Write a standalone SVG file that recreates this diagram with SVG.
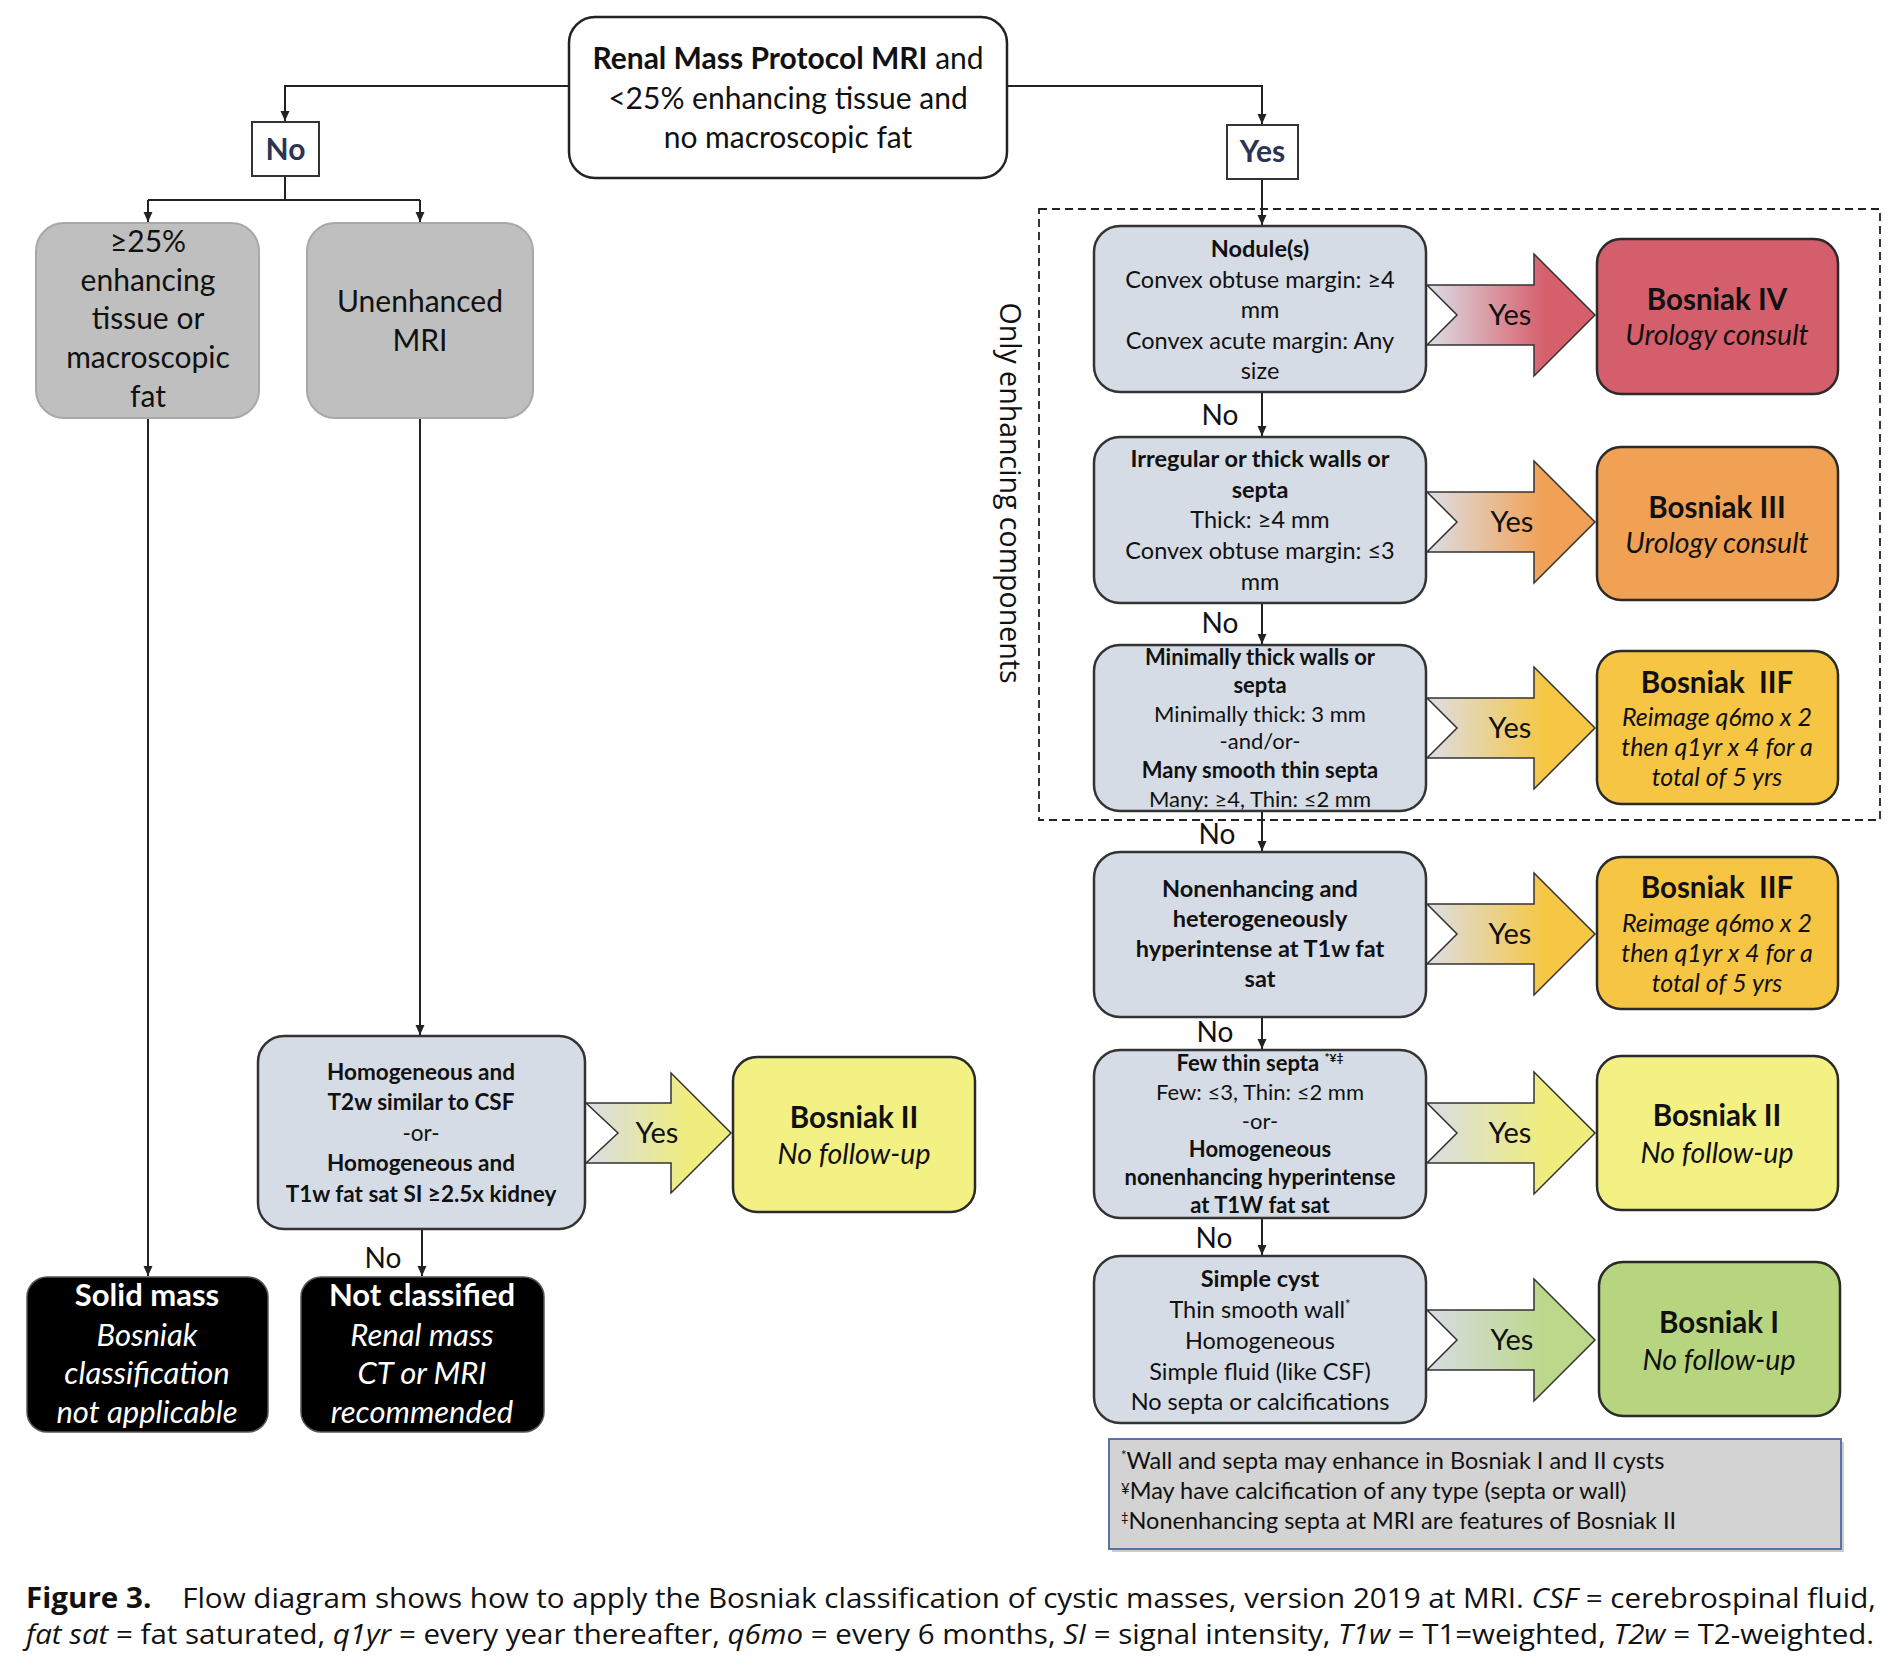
<svg xmlns="http://www.w3.org/2000/svg" width="1888" height="1670" viewBox="0 0 1888 1670">
<style>
text{font-family:Lato,"Liberation Sans",sans-serif;fill:#111;}
.c{text-anchor:middle;}
.b{font-weight:bold;}
.i{font-style:italic;}
.conn{fill:none;stroke:#222;stroke-width:2;}
.gbox{fill:#d6dce5;stroke:#333;stroke-width:2.5;}
.lgray{fill:#bfbfbf;stroke:#a8a8a8;stroke-width:2;}
.blk{fill:#000;stroke:#555;stroke-width:1.5;}
.res{stroke:#2a2a2a;stroke-width:2.5;}
.arr{stroke:#333;stroke-width:1.5;}
.lbl{fill:#fff;stroke:#333;stroke-width:2;}
.lbltx{font-size:30px;font-weight:bold;fill:#2b3553;text-anchor:middle;}
.no{font-size:28px;text-anchor:middle;}
.yes{font-size:29px;text-anchor:middle;}
.gt{font-size:23.5px;text-anchor:middle;}
.gts{font-size:22px;text-anchor:middle;}
.ht{font-size:22.5px;text-anchor:middle;}
.tt{font-size:29.5px;font-weight:bold;text-anchor:middle;}
.st{font-size:28.5px;font-style:italic;text-anchor:middle;}
.st2{font-size:25px;font-style:italic;text-anchor:middle;}
.wt{fill:#fff;font-size:31px;text-anchor:middle;}
.lt{font-size:30px;text-anchor:middle;}
.ft{font-size:23.5px;}
</style>
<defs>
<marker id="ah" markerWidth="12" markerHeight="12" refX="10" refY="6" orient="auto" markerUnits="userSpaceOnUse">
<path d="M0,1.5 L10,6 L0,10.5 Z" fill="#222"/>
</marker>
<linearGradient id="gRed" x1="0" y1="0" x2="1" y2="0"><stop offset="0" stop-color="#dcdee6"/><stop offset="0.7" stop-color="#d65f6c"/><stop offset="1" stop-color="#d65f6c"/></linearGradient>
<linearGradient id="gOra" x1="0" y1="0" x2="1" y2="0"><stop offset="0" stop-color="#dcdee6"/><stop offset="0.7" stop-color="#f1a155"/><stop offset="1" stop-color="#f1a155"/></linearGradient>
<linearGradient id="gGold" x1="0" y1="0" x2="1" y2="0"><stop offset="0" stop-color="#dcdee6"/><stop offset="0.7" stop-color="#f6c744"/><stop offset="1" stop-color="#f6c744"/></linearGradient>
<linearGradient id="gYel" x1="0" y1="0" x2="1" y2="0"><stop offset="0" stop-color="#d8dce4"/><stop offset="0.7" stop-color="#efed7e"/><stop offset="1" stop-color="#efed7e"/></linearGradient>
<linearGradient id="gGrn" x1="0" y1="0" x2="1" y2="0"><stop offset="0" stop-color="#d8dce4"/><stop offset="0.7" stop-color="#bcd88a"/><stop offset="1" stop-color="#bcd88a"/></linearGradient>
</defs>

<g id="connectors">
<path class="conn" d="M569,86 H285 V121" marker-end="url(#ah)"/>
<path class="conn" d="M1007,86 H1262 V124" marker-end="url(#ah)"/>
<path class="conn" d="M285,176 V200 M148,200 H420"/>
<path class="conn" d="M148,200 V222" marker-end="url(#ah)"/>
<path class="conn" d="M420,200 V222" marker-end="url(#ah)"/>
<path class="conn" d="M148,418 V1276" marker-end="url(#ah)"/>
<path class="conn" d="M420,418 V1035" marker-end="url(#ah)"/>
<path class="conn" d="M422,1229 V1276" marker-end="url(#ah)"/>
<path class="conn" d="M1262,179 V225" marker-end="url(#ah)"/>
<path class="conn" d="M1262,392 V436" marker-end="url(#ah)"/>
<path class="conn" d="M1262,603 V644" marker-end="url(#ah)"/>
<path class="conn" d="M1262,811 V851" marker-end="url(#ah)"/>
<path class="conn" d="M1262,1017 V1049" marker-end="url(#ah)"/>
<path class="conn" d="M1262,1218 V1255" marker-end="url(#ah)"/>
<text class="no" x="383" y="1268">No</text>
<text class="no" x="1220" y="425">No</text>
<text class="no" x="1220" y="633">No</text>
<text class="no" x="1217" y="844">No</text>
<text class="no" x="1215" y="1042">No</text>
<text class="no" x="1214" y="1248">No</text>
<polygon class="arr" fill="url(#gYel)" points="586,1103 671,1103 671,1073 731,1133 671,1193 671,1163 586,1163 618,1133"/>
<text class="yes" x="657" y="1143">Yes</text>
<polygon class="arr" fill="url(#gRed)" points="1427,285 1534,285 1534,254 1595,315 1534,376 1534,345 1427,345 1457,315"/>
<text class="yes" x="1510" y="325">Yes</text>
<polygon class="arr" fill="url(#gOra)" points="1427,492 1534,492 1534,461 1595,522 1534,583 1534,552 1427,552 1457,522"/>
<text class="yes" x="1512" y="532">Yes</text>
<polygon class="arr" fill="url(#gGold)" points="1427,698 1534,698 1534,667 1595,728 1534,789 1534,758 1427,758 1457,728"/>
<text class="yes" x="1510" y="738">Yes</text>
<polygon class="arr" fill="url(#gGold)" points="1427,904 1534,904 1534,873 1595,934 1534,995 1534,964 1427,964 1457,934"/>
<text class="yes" x="1510" y="944">Yes</text>
<polygon class="arr" fill="url(#gYel)" points="1427,1103 1534,1103 1534,1072 1595,1133 1534,1194 1534,1163 1427,1163 1457,1133"/>
<text class="yes" x="1510" y="1143">Yes</text>
<polygon class="arr" fill="url(#gGrn)" points="1427,1310 1534,1310 1534,1279 1595,1340 1534,1401 1534,1370 1427,1370 1457,1340"/>
<text class="yes" x="1512" y="1350">Yes</text>
</g>

<g id="enhancing-region">
<rect x="1039" y="209" width="841" height="611" fill="none" stroke="#222" stroke-width="1.8" stroke-dasharray="8,5"/>
<text transform="translate(1000,493) rotate(90)" text-anchor="middle" style="font-family:'Open Sans','Liberation Sans',sans-serif;font-size:29px;" textLength="381" lengthAdjust="spacingAndGlyphs">Only enhancing components</text>
</g>

<g id="start">
<rect x="569" y="17" width="438" height="161" rx="26" fill="#fff" stroke="#222" stroke-width="2.5"/>
<text class="c" x="788" y="69" font-size="30"><tspan font-weight="bold">Renal Mass Protocol MRI</tspan> and</text>
<text class="c" x="788" y="109" font-size="30">&lt;25% enhancing tissue and</text>
<text class="c" x="788" y="148" font-size="30">no macroscopic fat</text>
</g>

<g id="label-no">
<rect class="lbl" x="252" y="122" width="67" height="54"/>
<text class="lbltx" x="285.5" y="160">No</text>
</g>
<g id="label-yes">
<rect class="lbl" x="1227" y="125" width="71" height="54"/>
<text class="lbltx" x="1262.5" y="162">Yes</text>
</g>

<g id="enhancing-fat">
<rect class="lgray" x="36" y="223" width="223" height="195" rx="28"/>
<text class="lt" x="148" y="252">≥25%</text>
<text class="lt" x="148" y="291">enhancing</text>
<text class="lt" x="148" y="329">tissue or</text>
<text class="lt" x="148" y="368">macroscopic</text>
<text class="lt" x="148" y="407">fat</text>
</g>
<g id="unenhanced">
<rect class="lgray" x="307" y="223" width="226" height="195" rx="28"/>
<text class="lt" x="420" y="312">Unenhanced</text>
<text class="lt" x="420" y="351">MRI</text>
</g>

<g id="homogeneous">
<rect class="gbox" x="258" y="1036" width="327" height="193" rx="26"/>
<text class="ht b" x="421" y="1080">Homogeneous and</text>
<text class="ht b" x="421" y="1110">T2w similar to CSF</text>
<text class="ht" x="421" y="1141">-or-</text>
<text class="ht b" x="421" y="1171">Homogeneous and</text>
<text class="ht b" x="421" y="1202">T1w fat sat SI ≥2.5x kidney</text>
</g>

<g id="bosniak-ii-left">
<rect class="res" fill="#f3f084" x="733" y="1057" width="242" height="155" rx="24"/>
<text class="tt" x="854" y="1128">Bosniak II</text>
<text class="st" x="854" y="1164">No follow-up</text>
</g>

<g id="solid-mass">
<rect class="blk" x="27" y="1277" width="241" height="155" rx="20"/>
<text class="wt b" x="147" y="1306">Solid mass</text>
<text class="wt i" x="147" y="1346">Bosniak</text>
<text class="wt i" x="147" y="1384">classification</text>
<text class="wt i" x="147" y="1423">not applicable</text>
</g>
<g id="not-classified">
<rect class="blk" x="301" y="1277" width="243" height="155" rx="20"/>
<text class="wt b" x="422" y="1306">Not classified</text>
<text class="wt i" x="422" y="1346">Renal mass</text>
<text class="wt i" x="422" y="1384">CT or MRI</text>
<text class="wt i" x="422" y="1423">recommended</text>
</g>

<g id="nodules">
<rect class="gbox" x="1094" y="226" width="332" height="166" rx="26"/>
<text class="gt b" x="1260" y="257">Nodule(s)</text>
<text class="gt" x="1260" y="288">Convex obtuse margin: ≥4</text>
<text class="gt" x="1260" y="318">mm</text>
<text class="gt" x="1260" y="349">Convex acute margin: Any</text>
<text class="gt" x="1260" y="379">size</text>
</g>
<g id="bosniak-iv">
<rect class="res" fill="#d45e6b" x="1597" y="239" width="241" height="155" rx="24"/>
<text class="tt" x="1717" y="310">Bosniak IV</text>
<text class="st" x="1717" y="345">Urology consult</text>
</g>

<g id="irregular">
<rect class="gbox" x="1094" y="437" width="332" height="166" rx="26"/>
<text class="gt b" x="1260" y="467">Irregular or thick walls or</text>
<text class="gt b" x="1260" y="498">septa</text>
<text class="gt" x="1260" y="528">Thick: ≥4 mm</text>
<text class="gt" x="1260" y="559">Convex obtuse margin: ≤3</text>
<text class="gt" x="1260" y="590">mm</text>
</g>
<g id="bosniak-iii">
<rect class="res" fill="#f0a153" x="1597" y="447" width="241" height="153" rx="24"/>
<text class="tt" x="1717" y="518">Bosniak III</text>
<text class="st" x="1717" y="553">Urology consult</text>
</g>

<g id="minimally-thick">
<rect class="gbox" x="1094" y="645" width="332" height="166" rx="26"/>
<text class="gts b" x="1260" y="665">Minimally thick walls or</text>
<text class="gts b" x="1260" y="693">septa</text>
<text class="gts" x="1260" y="722">Minimally thick: 3 mm</text>
<text class="gts" x="1260" y="749">-and/or-</text>
<text class="gts b" x="1260" y="778">Many smooth thin septa</text>
<text class="gts" x="1260" y="807">Many: ≥4, Thin: ≤2 mm</text>
</g>
<g id="bosniak-iif-1">
<rect class="res" fill="#f6c543" x="1597" y="651" width="241" height="153" rx="24"/>
<text class="tt" x="1717" y="693" xml:space="preserve">Bosniak  IIF</text>
<text class="st2" x="1717" y="726">Reimage q6mo x 2</text>
<text class="st2" x="1717" y="756">then q1yr x 4 for a</text>
<text class="st2" x="1717" y="786">total of 5 yrs</text>
</g>

<g id="nonenhancing">
<rect class="gbox" x="1094" y="852" width="332" height="165" rx="26"/>
<text class="gt b" x="1260" y="897">Nonenhancing and</text>
<text class="gt b" x="1260" y="927">heterogeneously</text>
<text class="gt b" x="1260" y="957">hyperintense at T1w fat</text>
<text class="gt b" x="1260" y="987">sat</text>
</g>
<g id="bosniak-iif-2">
<rect class="res" fill="#f6c543" x="1597" y="857" width="241" height="152" rx="24"/>
<text class="tt" x="1717" y="898" xml:space="preserve">Bosniak  IIF</text>
<text class="st2" x="1717" y="932">Reimage q6mo x 2</text>
<text class="st2" x="1717" y="962">then q1yr x 4 for a</text>
<text class="st2" x="1717" y="992">total of 5 yrs</text>
</g>

<g id="few-thin-septa">
<rect class="gbox" x="1094" y="1050" width="332" height="168" rx="26"/>
<text class="gts b" x="1260" y="1071">Few thin septa <tspan font-size="12" dy="-9">*¥‡</tspan></text>
<text class="gts" x="1260" y="1100">Few: ≤3, Thin: ≤2 mm</text>
<text class="gts" x="1260" y="1129">-or-</text>
<text class="gts b" x="1260" y="1157">Homogeneous</text>
<text class="gts b" x="1260" y="1185">nonenhancing hyperintense</text>
<text class="gts b" x="1260" y="1213">at T1W fat sat</text>
</g>
<g id="bosniak-ii-right">
<rect class="res" fill="#f3f084" x="1597" y="1056" width="241" height="154" rx="24"/>
<text class="tt" x="1717" y="1126">Bosniak II</text>
<text class="st" x="1717" y="1163">No follow-up</text>
</g>

<g id="simple-cyst">
<rect class="gbox" x="1094" y="1256" width="332" height="167" rx="26"/>
<text class="gt b" x="1260" y="1287">Simple cyst</text>
<text class="gt" x="1260" y="1318">Thin smooth wall<tspan font-size="13" dy="-9">*</tspan></text>
<text class="gt" x="1260" y="1349">Homogeneous</text>
<text class="gt" x="1260" y="1380">Simple fluid (like CSF)</text>
<text class="gt" x="1260" y="1410">No septa or calcifications</text>
</g>
<g id="bosniak-i">
<rect class="res" fill="#b7d57f" x="1599" y="1262" width="241" height="154" rx="24"/>
<text class="tt" x="1719" y="1333">Bosniak I</text>
<text class="st" x="1719" y="1370">No follow-up</text>
</g>

<g id="footnotes">
<rect x="1112" y="1442" width="732" height="110" fill="#9a9a9a" opacity="0.5"/>
<rect x="1109" y="1439" width="732" height="110" fill="#d3d3d3" stroke="#5b72a6" stroke-width="2"/>
<text class="ft" x="1121" y="1469"><tspan font-size="13" dy="-9">*</tspan><tspan dy="9">Wall and septa may enhance in Bosniak I and II cysts</tspan></text>
<text class="ft" x="1121" y="1499"><tspan font-size="15" dy="-5">¥</tspan><tspan dy="5">May have calcification of any type (septa or wall)</tspan></text>
<text class="ft" x="1121" y="1529"><tspan font-size="13" dy="-7">‡</tspan><tspan dy="7">Nonenhancing septa at MRI are features of Bosniak II</tspan></text>
</g>

<g id="caption">
<text x="26" y="1608" font-size="28" textLength="1850" lengthAdjust="spacingAndGlyphs" style="font-family:'Open Sans','Liberation Sans',sans-serif;"><tspan font-weight="bold">Figure 3.</tspan><tspan xml:space="preserve">    Flow diagram shows how to apply the Bosniak classification of cystic masses, version 2019 at MRI. </tspan><tspan font-style="italic">CSF</tspan> = cerebrospinal fluid,</text>
<text x="26" y="1644" font-size="28" textLength="1848" lengthAdjust="spacingAndGlyphs" style="font-family:'Open Sans','Liberation Sans',sans-serif;"><tspan font-style="italic">fat sat</tspan> = fat saturated, <tspan font-style="italic">q1yr</tspan> = every year thereafter, <tspan font-style="italic">q6mo</tspan> = every 6 months, <tspan font-style="italic">SI</tspan> = signal intensity, <tspan font-style="italic">T1w</tspan> = T1=weighted, <tspan font-style="italic">T2w</tspan> = T2-weighted.</text>
</g>
</svg>
